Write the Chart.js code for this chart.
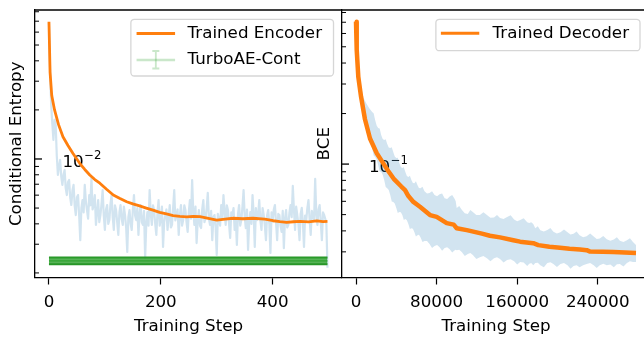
<!DOCTYPE html>
<html>
<head>
<meta charset="utf-8">
<script src="https://cdn.jsdelivr.net/npm/chart.js@4.4.1/dist/chart.umd.min.js"></script>
<style>
html, body { margin: 0; padding: 0; width: 644px; height: 341px; overflow: hidden; background: #fff; }
#encChart { position: absolute; left: 0; top: 0; }
#decChart { position: absolute; left: 300px; top: 0; }
</style>
</head>
<body>
<canvas id="encChart" width="342" height="341"></canvas>
<canvas id="decChart" width="360" height="341"></canvas>
<script>
// ---------------- Left panel: encoder training ----------------
// raw conditional entropy, logged every 2 training steps (0 .. 498)
const encRaw = [
  0.0682, 0.035, 0.0214, 0.0165, 0.0131, 0.0174, 0.0162, 0.0105, 0.00798, 0.0090,
  0.00986, 0.0078, 0.00693, 0.0080, 0.00856, 0.0066, 0.00601, 0.0072, 0.00743, 0.0058,
  0.00522, 0.0064, 0.00693, 0.0052, 0.00453, 0.0058, 0.00601, 0.0045, 0.00318, 0.0050,
  0.0056, 0.0047, 0.00693, 0.0055, 0.00486, 0.0043, 0.00601, 0.0052, 0.00765, 0.0049,
  0.00522, 0.0060, 0.00394, 0.0047, 0.0056, 0.0041, 0.00453, 0.0053, 0.00645, 0.0045,
  0.00367, 0.0049, 0.00522, 0.0040, 0.00422, 0.0053, 0.00601, 0.0044, 0.00367, 0.0052,
  0.00486, 0.0041, 0.00342, 0.0047, 0.00522, 0.0043, 0.00394, 0.0051, 0.00453, 0.0038,
  0.00269, 0.0044, 0.00486, 0.0040, 0.00367, 0.0049, 0.00601, 0.0045, 0.00422, 0.0050,
  0.00342, 0.0046, 0.00522, 0.0041, 0.00394, 0.0048, 0.00247, 0.0040, 0.00473, 0.0039,
  0.00645, 0.0046, 0.00394, 0.0052, 0.00486, 0.0040, 0.00342, 0.0047, 0.0056, 0.0039,
  0.00434, 0.0051, 0.00289, 0.0041, 0.00453, 0.0049, 0.00367, 0.0044, 0.00522, 0.0038,
  0.00394, 0.0050, 0.00645, 0.0042, 0.00453, 0.0049, 0.00342, 0.0045, 0.00522, 0.0039,
  0.00422, 0.0052, 0.00486, 0.0041, 0.00357, 0.0047, 0.0056, 0.0043, 0.00743, 0.0048,
  0.00394, 0.0051, 0.00305, 0.0042, 0.00486, 0.0039, 0.00377, 0.0049, 0.0056, 0.0041,
  0.00434, 0.0050, 0.00619, 0.0043, 0.00394, 0.0048, 0.00318, 0.0044, 0.00453, 0.0038,
  0.00258, 0.0046, 0.00422, 0.0039, 0.00522, 0.0043, 0.00601, 0.0048, 0.00394, 0.0052,
  0.00486, 0.0040, 0.00328, 0.0047, 0.00453, 0.0050, 0.00367, 0.0043, 0.00297, 0.0046,
  0.00522, 0.0039, 0.00422, 0.0051, 0.00645, 0.0044, 0.00377, 0.0049, 0.00277, 0.0041,
  0.00473, 0.0040, 0.00601, 0.0046, 0.00289, 0.0050, 0.00422, 0.0045, 0.0056, 0.0042,
  0.00367, 0.0050, 0.00453, 0.0039, 0.00318, 0.0045, 0.00486, 0.0040, 0.00265, 0.0047,
  0.00411, 0.0049, 0.00522, 0.0041, 0.00318, 0.0046, 0.00453, 0.0039, 0.00357, 0.0048,
  0.00284, 0.0043, 0.00486, 0.0038, 0.00394, 0.0047, 0.00522, 0.0044, 0.00683, 0.0049,
  0.00367, 0.0051, 0.00453, 0.0040, 0.00318, 0.0046, 0.00501, 0.0041, 0.00289, 0.0045,
  0.00422, 0.0050, 0.0056, 0.0043, 0.00342, 0.0048, 0.00453, 0.0042, 0.00754, 0.0046,
  0.00394, 0.0049, 0.00522, 0.0041, 0.00318, 0.0047, 0.00453, 0.0043, 0.0040, 0.00215
];
const encRawStepInterval = 2;
const encRawSteps = encRaw.map((_, i) => i * encRawStepInterval);

const encSmoothSteps = [
  0, 2, 5, 10, 17, 25, 34, 43, 55, 64,
  73, 82, 91, 103, 115, 127, 139, 150, 162, 174,
  186, 198, 210, 222, 234, 246, 258, 270, 285, 300,
  315, 329, 347, 365, 386, 401, 413, 425, 437, 449,
  464, 479, 490, 498
];
const encSmooth = [
  0.0695, 0.034, 0.0245, 0.0200, 0.0163, 0.0137, 0.0121, 0.0108, 0.00941, 0.00862,
  0.00798, 0.00748, 0.0071, 0.00652, 0.00601, 0.00572, 0.00547, 0.0053, 0.00515, 0.0050,
  0.00486, 0.0047, 0.0046, 0.0045, 0.00444, 0.00441, 0.00445, 0.00443, 0.00432, 0.00422,
  0.00428, 0.00433, 0.0043, 0.00433, 0.00427, 0.00418, 0.00413, 0.00409, 0.00412, 0.00414,
  0.00411, 0.00417, 0.00413, 0.00414
];
const turboSteps = [0, 498];
const turboMean  = [0.00237, 0.00237];
const turboUpper = [0.00249, 0.00249];
const turboLower = [0.00226, 0.00226];
const encXTicks = [0, 200, 400];
const encYTicks = [0.002, 0.003, 0.004, 0.005, 0.006, 0.007, 0.008, 0.009,
                   0.01, 0.02, 0.03, 0.04, 0.05, 0.06, 0.07, 0.08];
const encYMajorLabel = ['10', '\u22122'];

// ---------------- Right panel: decoder training ----------------
const decSteps = [
  0, 700, 2300, 5000, 8900, 13900, 20600, 27100, 32000, 38000,
  45000, 48700, 52000, 57000, 63500, 73500, 80100, 90100, 97000, 100000,
  110000, 116500, 125000, 133000, 143000, 156200, 162900, 176000, 181000, 192000,
  202600, 212000, 222400, 229100, 232400, 245000, 255500, 267000, 278000
];
const decSmooth = [
  0.705, 0.48, 0.33, 0.252, 0.185, 0.142, 0.116, 0.101, 0.091, 0.081,
  0.0735, 0.070, 0.0645, 0.0595, 0.0557, 0.0497, 0.0485, 0.0445, 0.0436, 0.0415,
  0.0404, 0.0396, 0.0385, 0.0374, 0.0366, 0.0352, 0.0345, 0.0338, 0.0329, 0.0322,
  0.0317, 0.0313, 0.0310, 0.0307, 0.0301, 0.0300, 0.0299, 0.0297, 0.0295
];
// spread of the raw BCE curve (upper / lower edge of the noisy band)
const decBandSteps = [
  0, 1500, 3000, 5000, 7000, 10000, 13000, 16000, 17500, 19000,
  20500, 22000, 23500, 25000, 26500, 28000, 29500, 31000, 32500, 34000,
  35500, 37000, 38500, 40000, 41500, 43000, 44500, 46000, 47500, 49000,
  50500, 52000, 53500, 55000, 56500, 58000, 59500, 61000, 62500, 64000,
  66000, 68000, 70500, 73000, 75500, 78000, 80500, 83000, 85500, 88000,
  90500, 93000, 95500, 98000, 99000, 100000, 102500, 105000, 108000, 111000,
  113500, 116000, 119500, 123000, 126500, 130000, 133500, 137000, 140000, 143000,
  146500, 150000, 153500, 157000, 160000, 163000, 166500, 170000, 172000, 174000,
  176000, 178000, 180500, 183000, 186500, 190000, 193000, 196000, 199500, 203000,
  206500, 210000, 213000, 216000, 219000, 222000, 225500, 229000, 232500, 236000,
  239000, 242000, 245500, 249000, 252500, 256000, 259000, 262000, 265500, 269000,
  272000, 275000, 278000
];
const decBandHigh = [
  0.711, 0.478, 0.373, 0.296, 0.251, 0.231, 0.216, 0.204, 0.201, 0.183,
  0.170, 0.164, 0.163, 0.149, 0.141, 0.139, 0.1407, 0.1316, 0.1255, 0.1246,
  0.126, 0.1179, 0.111, 0.1086, 0.109, 0.1014, 0.096, 0.0947, 0.0958, 0.0896,
  0.0849, 0.0837, 0.0853, 0.0803, 0.0771, 0.0770, 0.0790, 0.0750, 0.0720, 0.0719,
  0.0733, 0.0690, 0.0667, 0.0672, 0.0690, 0.0654, 0.0644, 0.0660, 0.0668, 0.0625,
  0.0620, 0.0640, 0.0655, 0.0619, 0.0600, 0.0547, 0.0563, 0.0535, 0.0510, 0.0505,
  0.0532, 0.0518, 0.0497, 0.0497, 0.0517, 0.0498, 0.0479, 0.0480, 0.0497, 0.0477,
  0.0471, 0.0484, 0.0495, 0.0468, 0.0457, 0.0464, 0.0475, 0.0451, 0.0445, 0.0451,
  0.0440, 0.0415, 0.0426, 0.0404, 0.0396, 0.0405, 0.0416, 0.0395, 0.0386, 0.0393,
  0.0408, 0.0392, 0.0380, 0.0384, 0.0396, 0.0377, 0.0367, 0.0372, 0.0386, 0.0370,
  0.0358, 0.0360, 0.0373, 0.0357, 0.0349, 0.0355, 0.0366, 0.0349, 0.0343, 0.0352,
  0.0361, 0.0343, 0.0329
];
const decBandLow = [
  0.692, 0.446, 0.308, 0.241, 0.204, 0.1685, 0.143, 0.1246, 0.1125, 0.1101,
  0.1063, 0.0986, 0.0903, 0.0896, 0.0865, 0.0803, 0.0730, 0.0719, 0.0700, 0.0654,
  0.0598, 0.0594, 0.0582, 0.0547, 0.0511, 0.0518, 0.0517, 0.0497, 0.0464, 0.0470,
  0.0463, 0.0439, 0.0410, 0.0415, 0.0412, 0.0393, 0.0370, 0.0377, 0.0379, 0.0367,
  0.0343, 0.0348, 0.0348, 0.0334, 0.0316, 0.0325, 0.0329, 0.0320, 0.0305, 0.0316,
  0.0320, 0.0311, 0.0297, 0.0307, 0.0309, 0.0307, 0.0309, 0.0299, 0.0283, 0.0291,
  0.0295, 0.0287, 0.0272, 0.0279, 0.0283, 0.0275, 0.0264, 0.0275, 0.0279, 0.0272,
  0.0259, 0.0268, 0.0271, 0.0264, 0.0252, 0.0261, 0.0259, 0.0247, 0.0255, 0.0257,
  0.0250, 0.0257, 0.0258, 0.0250, 0.0243, 0.0257, 0.0260, 0.0254, 0.0244, 0.0254,
  0.0257, 0.0250, 0.0238, 0.0247, 0.0250, 0.0243, 0.0250, 0.0254, 0.0257, 0.0250,
  0.0240, 0.0250, 0.0255, 0.0250, 0.0252, 0.0243, 0.0253, 0.0254, 0.0245, 0.0257,
  0.0264, 0.0261, 0.0261
];
const decXTicks = [0, 80000, 160000, 240000];
const decYTicks = [0.03, 0.04, 0.05, 0.06, 0.07, 0.08, 0.09,
                   0.1, 0.2, 0.3, 0.4, 0.5, 0.6, 0.7, 0.8];
const decYMajorLabel = ['10', '\u22121'];

// ---------------- helpers ----------------
function pts(xs, ys) { return xs.map((x, i) => ({ x: x, y: ys[i] })); }
const FONT = "'DejaVu Sans', sans-serif";
const FS = 16.7;
Chart.defaults.font.family = FONT;
Chart.defaults.font.size = FS;
Chart.defaults.color = '#000';

// inward y ticks (major longer), mathtext-like major label, top/right spines
const axesFrame = {
  id: 'axesFrame',
  beforeDatasetsDraw(chart, args, o) {
    const { ctx, chartArea: a } = chart;
    const ys = chart.scales.y;
    const p = ys.getPixelForValue(o.major);
    ctx.save();
    ctx.fillStyle = '#000';
    ctx.textAlign = 'left';
    ctx.textBaseline = 'alphabetic';
    ctx.font = FS + 'px ' + FONT;
    const x0 = a.left + o.labelPad;
    ctx.fillText(o.label[0], x0, p + 8);
    const bw = ctx.measureText(o.label[0]).width;
    ctx.font = (FS * 0.7).toFixed(2) + 'px ' + FONT;
    ctx.fillText(o.label[1], x0 + bw + 0.5, p + 0.3);
    ctx.restore();
  },
  afterDatasetsDraw(chart) {
    const { ctx, chartArea: a } = chart;
    const ys = chart.scales.y;
    ctx.save();
    ctx.strokeStyle = '#000';
    ys.ticks.forEach(t => {
      const p = ys.getPixelForValue(t.value);
      ctx.lineWidth = t.major ? 1.3 : 1.0;
      ctx.beginPath();
      ctx.moveTo(a.left, p);
      ctx.lineTo(a.left + (t.major ? 7 : 4), p);
      ctx.stroke();
    });
    ctx.lineWidth = 1.3;
    ctx.beginPath();
    ctx.moveTo(a.left, a.top);
    ctx.lineTo(a.right, a.top);
    ctx.lineTo(a.right, a.bottom);
    ctx.stroke();
    ctx.restore();
  }
};

// matplotlib-style framed legend
const boxLegend = {
  id: 'boxLegend',
  afterDraw(chart, args, o) {
    const { ctx, chartArea: a } = chart;
    const items = chart.data.datasets.filter(d => d.legendKind);
    if (!items.length) return;
    ctx.save();
    ctx.font = FS + 'px ' + FONT;
    const textW = Math.max(...items.map(d => ctx.measureText(d.label).width));
    const w = o.textOffset + textW + o.padRight;
    const h = o.height;
    const x = a.right - o.right - w;
    const y = a.top + o.top;
    const r = 3.5;
    ctx.beginPath();
    ctx.moveTo(x + r, y);
    ctx.arcTo(x + w, y, x + w, y + h, r);
    ctx.arcTo(x + w, y + h, x, y + h, r);
    ctx.arcTo(x, y + h, x, y, r);
    ctx.arcTo(x, y, x + w, y, r);
    ctx.closePath();
    ctx.fillStyle = 'rgba(255,255,255,0.8)';
    ctx.fill();
    ctx.strokeStyle = 'rgba(204,204,204,0.8)';
    ctx.lineWidth = 1.3;
    ctx.stroke();
    items.forEach((d, i) => {
      const cy = y + o.firstRow + i * o.rowGap;
      const x0 = x + o.lineStart, x1 = x + o.lineEnd;
      if (d.legendKind === 'line') {
        ctx.strokeStyle = d.borderColor;
        ctx.lineWidth = 3;
        ctx.beginPath(); ctx.moveTo(x0, cy); ctx.lineTo(x1, cy); ctx.stroke();
      } else {
        const xc = (x0 + x1) / 2;
        ctx.strokeStyle = 'rgba(44,160,44,0.25)';
        ctx.lineWidth = 2.5;
        ctx.beginPath(); ctx.moveTo(x0, cy); ctx.lineTo(x1, cy); ctx.stroke();
        ctx.lineWidth = 1.8;
        ctx.beginPath();
        ctx.moveTo(xc, cy - 9); ctx.lineTo(xc, cy + 8.5);
        ctx.moveTo(xc - 3.5, cy - 9); ctx.lineTo(xc + 3.5, cy - 9);
        ctx.moveTo(xc - 3.5, cy + 8.5); ctx.lineTo(xc + 3.5, cy + 8.5);
        ctx.stroke();
      }
      ctx.fillStyle = '#000';
      ctx.textBaseline = 'middle';
      ctx.textAlign = 'left';
      ctx.fillText(d.label, x + o.textOffset, cy);
    });
    ctx.restore();
  }
};

function makeScales(cfg) {
  return {
    x: {
      type: 'linear', min: cfg.xMin, max: cfg.xMax, bounds: 'data',
      afterBuildTicks: s => { s.ticks = cfg.xTicks.map(v => ({ value: v })); },
      afterFit: s => { s.height = 63.5; s.paddingLeft = 0; s.paddingRight = 0; },
      ticks: { color: '#000', font: { size: FS, family: FONT }, padding: 8, autoSkip: false, maxRotation: 0,
               callback: v => String(v) },
      grid: { display: true, drawOnChartArea: false, drawTicks: true, tickLength: 7, tickColor: '#000', tickWidth: 1.2 },
      border: { display: true, color: '#000', width: 1.3 },
      title: { display: true, text: 'Training Step', color: '#000', font: { size: FS, family: FONT },
               padding: { top: 0, bottom: 4.2 } }
    },
    y: {
      type: 'logarithmic', min: cfg.yMin, max: cfg.yMax, bounds: 'data',
      afterBuildTicks: s => { s.ticks = cfg.yTicks.map(v => ({ value: v, major: v === cfg.yMajor })); },
      afterFit: s => { s.width = cfg.yWidth; s.paddingTop = 0; s.paddingBottom = 0; },
      ticks: { display: true, padding: 0, autoSkip: false, color: '#000', font: { size: FS, family: FONT },
               callback: () => '' },
      grid: { display: true, drawOnChartArea: false, drawTicks: false },
      border: { display: true, color: '#000', width: 1.3 },
      title: { display: true, text: cfg.yTitle, color: '#000', font: { size: FS, family: FONT },
               padding: { top: cfg.yTitlePad, bottom: 0 } }
    }
  };
}

const common = {
  responsive: false,
  animation: false,
  devicePixelRatio: 1,
  events: [],
  elements: { point: { radius: 0, hoverRadius: 0 }, line: { tension: 0, borderJoinStyle: 'round', borderCapStyle: 'butt' } },
};

// ---------------- Left chart ----------------
new Chart(document.getElementById('encChart'), {
  type: 'line',
  data: {
    datasets: [
      { label: 'raw', data: pts(encRawSteps, encRaw), borderColor: 'rgba(31,119,180,0.2)', borderWidth: 2.2, fill: false, order: 5 },
      { label: 'Trained Encoder', legendKind: 'line', data: pts(encSmoothSteps, encSmooth), borderColor: '#ff7f0e', borderWidth: 2.8, fill: false, order: 4 },
      { label: 'turbo upper', data: pts(turboSteps, turboUpper), borderColor: 'rgb(40,150,40)', borderWidth: 2, fill: false, order: 3 },
      { label: 'turbo lower', data: pts(turboSteps, turboLower), borderColor: 'rgb(40,150,40)', borderWidth: 2, fill: '-1', backgroundColor: 'rgba(44,160,44,0.8)', order: 2 },
      { label: 'TurboAE-Cont', legendKind: 'errorbar', data: pts(turboSteps, turboMean), borderColor: 'rgba(44,160,44,0.9)', borderWidth: 1.2, fill: false, order: 1 }
    ]
  },
  options: Object.assign({}, common, {
    layout: { padding: { top: 10, left: 0, right: 0, bottom: 0 } },
    scales: makeScales({
      xMin: -24.95, xMax: 523.95, xTicks: encXTicks,
      yMin: 0.001875, yMax: 0.082, yTicks: encYTicks, yMajor: 0.01,
      yWidth: 35, yTitle: 'Conditional Entropy', yTitlePad: 6.6
    }),
    plugins: {
      legend: { display: false }, tooltip: { enabled: false },
      axesFrame: { major: 0.01, label: encYMajorLabel, labelPad: 27.5 },
      boxLegend: { right: 8.5, top: 9.3, height: 56.7, textOffset: 56.7, padRight: 11.5, firstRow: 14.2, rowGap: 26.5, lineStart: 5.7, lineEnd: 44.2 }
    }
  }),
  plugins: [axesFrame, boxLegend]
});

// ---------------- Right chart ----------------
new Chart(document.getElementById('decChart'), {
  type: 'line',
  data: {
    datasets: [
      { label: 'band high', data: pts(decBandSteps, decBandHigh), borderWidth: 0, borderColor: 'rgba(0,0,0,0)', fill: false, order: 4 },
      { label: 'band low', data: pts(decBandSteps, decBandLow), borderWidth: 0, borderColor: 'rgba(0,0,0,0)', fill: '-1', backgroundColor: 'rgba(31,119,180,0.2)', order: 3 },
      { label: 'Trained Decoder', legendKind: 'line', data: pts(decSteps, decSmooth), borderColor: '#ff7f0e', borderWidth: 4.5, fill: false, order: 1 }
    ]
  },
  options: Object.assign({}, common, {
    layout: { padding: { top: 10, left: 0, right: 10, bottom: 0 } },
    scales: makeScales({
      xMin: -13900, xMax: 291900, xTicks: decXTicks,
      yMin: 0.0211, yMax: 0.828, yTicks: decYTicks, yMajor: 0.1,
      yWidth: 42, yTitle: 'BCE', yTitlePad: 15
    }),
    plugins: {
      legend: { display: false }, tooltip: { enabled: false },
      axesFrame: { major: 0.1, label: decYMajorLabel, labelPad: 27 },
      boxLegend: { right: 10, top: 9.3, height: 31.4, textOffset: 56.7, padRight: 11, firstRow: 14, rowGap: 0, lineStart: 5, lineEnd: 43.4 }
    }
  }),
  plugins: [axesFrame, boxLegend]
});
</script>
</body>
</html>
